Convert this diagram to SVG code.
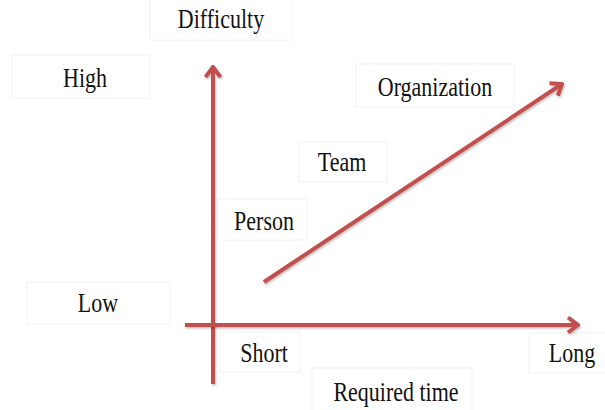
<svg xmlns="http://www.w3.org/2000/svg" width="605" height="410" viewBox="0 0 605 410">
<style>
.box{fill:#ffffff;stroke:#f2f2f2;stroke-width:1}
.lbl{font-family:"Liberation Serif","Times New Roman",serif;font-size:22px;fill:#111111;text-anchor:middle}
.ax{stroke:#C0504D;stroke-width:4;fill:none;marker-end:url(#open);filter:url(#sh)}
</style>
<defs>
<marker id="open" markerUnits="userSpaceOnUse" viewBox="0 0 14 18" refX="12" refY="9" markerWidth="14" markerHeight="18" orient="auto">
<path d="M2,1.5 L12,9 L2,16.5" fill="none" stroke="#C0504D" stroke-width="4" stroke-linejoin="miter"/>
</marker>
<filter id="sh" filterUnits="userSpaceOnUse" x="0" y="0" width="605" height="410">
<feDropShadow dx="1" dy="1.5" stdDeviation="1" flood-color="#000" flood-opacity="0.25"/>
</filter>
</defs>
<rect width="605" height="410" fill="#ffffff"/>
<g id="n-difficulty"><rect class="box" x="150" y="-1" width="142" height="41"/><text class="lbl" transform="translate(221 28) scale(1 1.2)">Difficulty</text></g>
<g id="n-high"><rect class="box" x="12" y="55" width="138" height="43"/><text class="lbl" transform="translate(85 87) scale(1 1.2)">High</text></g>
<g id="n-organization"><rect class="box" x="356" y="64" width="158" height="43"/><text class="lbl" transform="translate(435 96) scale(1 1.2)">Organization</text></g>
<g id="n-team"><rect class="box" x="299" y="142" width="88" height="40"/><text class="lbl" transform="translate(342 171) scale(1 1.2)">Team</text></g>
<g id="n-person"><rect class="box" x="218" y="199" width="89" height="41"/><text class="lbl" transform="translate(264 230) scale(1 1.2)">Person</text></g>
<g id="n-low"><rect class="box" x="27" y="282" width="143" height="42"/><text class="lbl" transform="translate(98 312) scale(1 1.2)">Low</text></g>
<g id="n-short"><rect class="box" x="220" y="332" width="80" height="40"/><text class="lbl" transform="translate(264 362) scale(1 1.2)">Short</text></g>
<g id="n-long"><rect class="box" x="529" y="333" width="80" height="40"/><text class="lbl" transform="translate(572 362) scale(1 1.2)">Long</text></g>
<g id="n-required"><rect class="box" x="312" y="368" width="160" height="45"/><text class="lbl" transform="translate(396 401) scale(1 1.2)">Required time</text></g>
<g id="connectors">
<line class="ax" x1="213" y1="384" x2="213" y2="67"/>
<line class="ax" x1="185" y1="325" x2="578" y2="325"/>
<line class="ax" x1="264" y1="282" x2="562" y2="84"/>
</g>
</svg>
